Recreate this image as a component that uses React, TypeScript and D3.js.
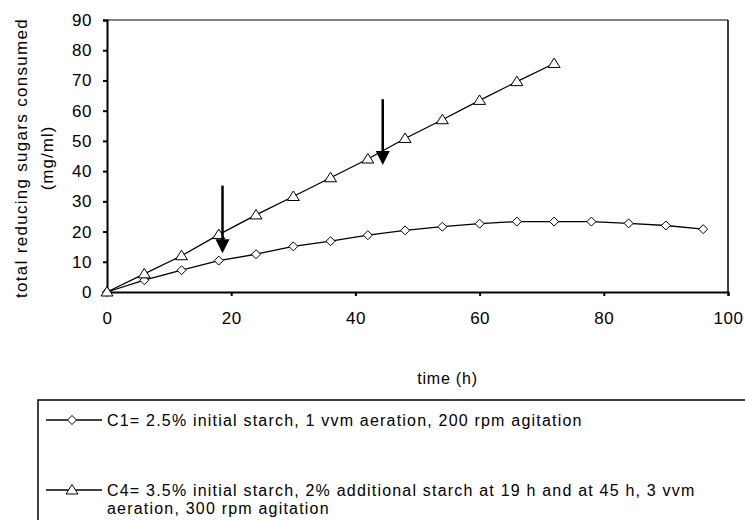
import React, { useEffect, useRef } from "react";
import * as d3 from "d3";

// Sampling times (h) and total reducing sugars consumed (mg/ml)
const timeC1 = [0, 6, 12, 18, 24, 30, 36, 42, 48, 54, 60, 66, 72, 78, 84, 90, 96];
const sugarC1 = [0, 3.9, 7.2, 10.4, 12.5, 15.1, 16.8, 18.8, 20.4, 21.6, 22.6, 23.3, 23.3, 23.3, 22.7, 22.0, 20.8];
const timeC4 = [0, 6, 12, 18, 24, 30, 36, 42, 48, 54, 60, 66, 72];
const sugarC4 = [0, 6.0, 12.0, 19.0, 25.5, 31.6, 37.8, 44.0, 50.8, 57.0, 63.4, 69.6, 75.6];

// Starch feeding events: time, arrow tail value, arrow tip value
const feedTimes = [18.6, 44.4];
const feedTails = [35.2, 63.8];
const feedTips = [12.8, 42.0];

const xTicks = [0, 20, 40, 60, 80, 100];
const yTicks = [0, 10, 20, 30, 40, 50, 60, 70, 80, 90];

const legendC1 = "C1= 2.5% initial starch, 1  vvm aeration, 200 rpm agitation";
const legendC4a = "C4= 3.5% initial starch, 2% additional starch at 19 h and at 45 h, 3 vvm";
const legendC4b = "aeration, 300 rpm agitation";

const FONT = "'Liberation Sans', Arial, sans-serif";

export default function App() {
  const ref = useRef<SVGSVGElement | null>(null);

  useEffect(() => {
    const svg = d3.select(ref.current);
    svg.selectAll("*").remove();

    const left = 107, right = 728, top = 20, bottom = 292;
    const x = d3.scaleLinear().domain([0, 100]).range([left, right]);
    const y = d3.scaleLinear().domain([0, 90]).range([bottom, top]);

    svg.append("rect").attr("width", 745).attr("height", 520).attr("fill", "#fff");

    // plot frame
    svg.append("line").attr("x1", left).attr("x2", right).attr("y1", top).attr("y2", top)
      .attr("stroke", "#000").attr("stroke-width", 1);
    svg.append("line").attr("x1", right).attr("x2", right).attr("y1", top).attr("y2", bottom)
      .attr("stroke", "#000").attr("stroke-width", 1.5);

    // axes
    const xAxis = d3.axisBottom(x).tickValues(xTicks).tickSize(4).tickPadding(16).tickFormat(d3.format("d"));
    const gx = svg.append("g").attr("transform", `translate(0,${bottom})`).call(xAxis);
    const yAxis = d3.axisLeft(y).tickValues(yTicks).tickSize(4).tickPadding(11).tickFormat(d3.format("d"));
    const gy = svg.append("g").attr("transform", `translate(${left},0)`).call(yAxis);
    [gx, gy].forEach((g) => {
      g.select(".domain").attr("stroke", "#000").attr("stroke-width", 2);
      g.selectAll(".tick line").attr("stroke", "#000").attr("stroke-width", 2);
      g.selectAll(".tick text").attr("font-family", FONT).attr("font-size", 17)
        .attr("letter-spacing", 0.5).attr("fill", "#000");
    });

    // axis titles
    svg.append("text").attr("x", (left + right) / 2 + 30).attr("y", 384).attr("text-anchor", "middle")
      .attr("font-family", FONT).attr("font-size", 16).attr("letter-spacing", 0.8).text("time (h)");
    svg.append("text").attr("transform", "translate(27,158) rotate(-90)").attr("text-anchor", "middle")
      .attr("font-family", FONT).attr("font-size", 17).attr("letter-spacing", 1.3).text("total reducing sugars consumed");
    svg.append("text").attr("transform", "translate(53,158) rotate(-90)").attr("text-anchor", "middle")
      .attr("font-family", FONT).attr("font-size", 17).attr("letter-spacing", 1).text("(mg/ml)");

    const line = d3.line<[number, number]>().x((d) => x(d[0])).y((d) => y(d[1]));
    const c1 = timeC1.map((t, i) => [t, sugarC1[i]] as [number, number]);
    const c4 = timeC4.map((t, i) => [t, sugarC4[i]] as [number, number]);

    const diamond = (cx: number, cy: number) => `M${cx},${cy - 4.5}L${cx + 4.5},${cy}L${cx},${cy + 4.5}L${cx - 4.5},${cy}Z`;
    const triangle = (cx: number, cy: number) => `M${cx},${cy - 5.5}L${cx + 6},${cy + 4}L${cx - 6},${cy + 4}Z`;

    svg.append("path").attr("d", line(c1)).attr("fill", "none").attr("stroke", "#000").attr("stroke-width", 1.3);
    svg.append("path").attr("d", line(c4)).attr("fill", "none").attr("stroke", "#000").attr("stroke-width", 1.3);

    svg.append("g").selectAll("path").data(c1).join("path")
      .attr("d", (d) => diamond(x(d[0]), y(d[1]))).attr("fill", "#fff").attr("stroke", "#000").attr("stroke-width", 1);
    svg.append("g").selectAll("path").data(c4).join("path")
      .attr("d", (d) => triangle(x(d[0]), y(d[1]))).attr("fill", "#fff").attr("stroke", "#000").attr("stroke-width", 1);

    // feeding arrows
    feedTimes.forEach((t, i) => {
      const ax = x(t), y0 = y(feedTails[i]), y1 = y(feedTips[i]);
      const head = 14;
      svg.append("line").attr("x1", ax).attr("x2", ax).attr("y1", y0).attr("y2", y1 - head + 1)
        .attr("stroke", "#000").attr("stroke-width", 2.5);
      svg.append("path").attr("d", `M${ax - 7},${y1 - head}L${ax + 7},${y1 - head}L${ax},${y1}Z`).attr("fill", "#000");
    });

    // legend box
    const lg = svg.append("g");
    lg.append("rect").attr("x", 38).attr("y", 400).attr("width", 720).attr("height", 130)
      .attr("fill", "#fff").attr("stroke", "#000").attr("stroke-width", 1.5);
    const rows = [
      { y: 420, label: legendC1, marker: diamond },
      { y: 490, label: legendC4a, marker: triangle },
    ];
    rows.forEach((r) => {
      lg.append("line").attr("x1", 46).attr("x2", 102).attr("y1", r.y).attr("y2", r.y)
        .attr("stroke", "#000").attr("stroke-width", 1.3);
      lg.append("path").attr("d", r.marker(72, r.y)).attr("fill", "#fff").attr("stroke", "#000").attr("stroke-width", 1);
      lg.append("text").attr("x", 107).attr("y", r.y + 6).attr("font-family", FONT).attr("font-size", 16)
        .attr("letter-spacing", 1.2).text(r.label);
    });
    lg.append("text").attr("x", 107).attr("y", 514).attr("font-family", FONT).attr("font-size", 16)
      .attr("letter-spacing", 1.2).text(legendC4b);
  }, []);

  return (
    <div style={{ position: "fixed", left: 0, top: 0 }}>
      <svg ref={ref} width={745} height={520} style={{ display: "block" }} />
    </div>
  );
}
